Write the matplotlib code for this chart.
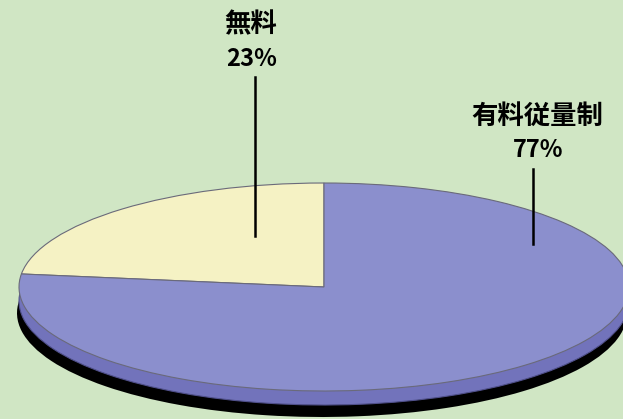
import matplotlib.pyplot as plt

plt.rcParams['font.family'] = ['Noto Sans CJK JP', 'DejaVu Sans']

# data
labels = ['無料', '有料従量制']
shares = [23, 77]
colors = ['#f5f2c4', '#8b8fcd']

W, H = 623, 419
cx, cy = 324, 287          # ellipse centre (pixels, y down)
a, b = 305, 104            # semi axes (pixels)
k = a / b                  # vertical squash


def py(y):
    # pixel row -> data y (unsquashed)
    return (H - y) * k


fig = plt.figure(figsize=(W / 100, H / 100), dpi=100)
fig.patch.set_facecolor('#d0e6c4')
ax = fig.add_axes([0, 0, 1, 1])
ax.set_facecolor('#d0e6c4')

# shadow + side of the disc
ax.pie(shares, startangle=90, radius=a, center=(cx - 2, py(cy + 26)),
       colors=['black', 'black'], wedgeprops=dict(linewidth=0))
ax.pie(shares, startangle=90, radius=a, center=(cx, py(cy + 14)),
       colors=['#7273bb', '#7273bb'],
       wedgeprops=dict(linewidth=0.8, edgecolor='#50508a'))
# top face
ax.pie(shares, startangle=90, radius=a, center=(cx, py(cy)),
       colors=colors, wedgeprops=dict(linewidth=0.8, edgecolor='#6a6a7a'))

ax.set_aspect('auto')
ax.set_xlim(0, W)
ax.set_ylim(0, H * k)
ax.axis('off')

# labels with leader lines
ax.plot([255, 255], [py(77), py(236)], color='black', lw=1.8)
ax.plot([533, 533], [py(169), py(244)], color='black', lw=1.8)

ax.text(251, py(25), labels[0], ha='center', va='center',
        fontsize=19, fontweight='bold')
ax.text(252, py(59), f'{shares[0]}%', ha='center', va='center',
        fontsize=17, fontweight='bold')
ax.text(537, py(116), labels[1], ha='center', va='center',
        fontsize=19, fontweight='bold')
ax.text(538, py(150), f'{shares[1]}%', ha='center', va='center',
        fontsize=17, fontweight='bold')

fig.savefig('out.png', dpi=100, facecolor=fig.get_facecolor())
